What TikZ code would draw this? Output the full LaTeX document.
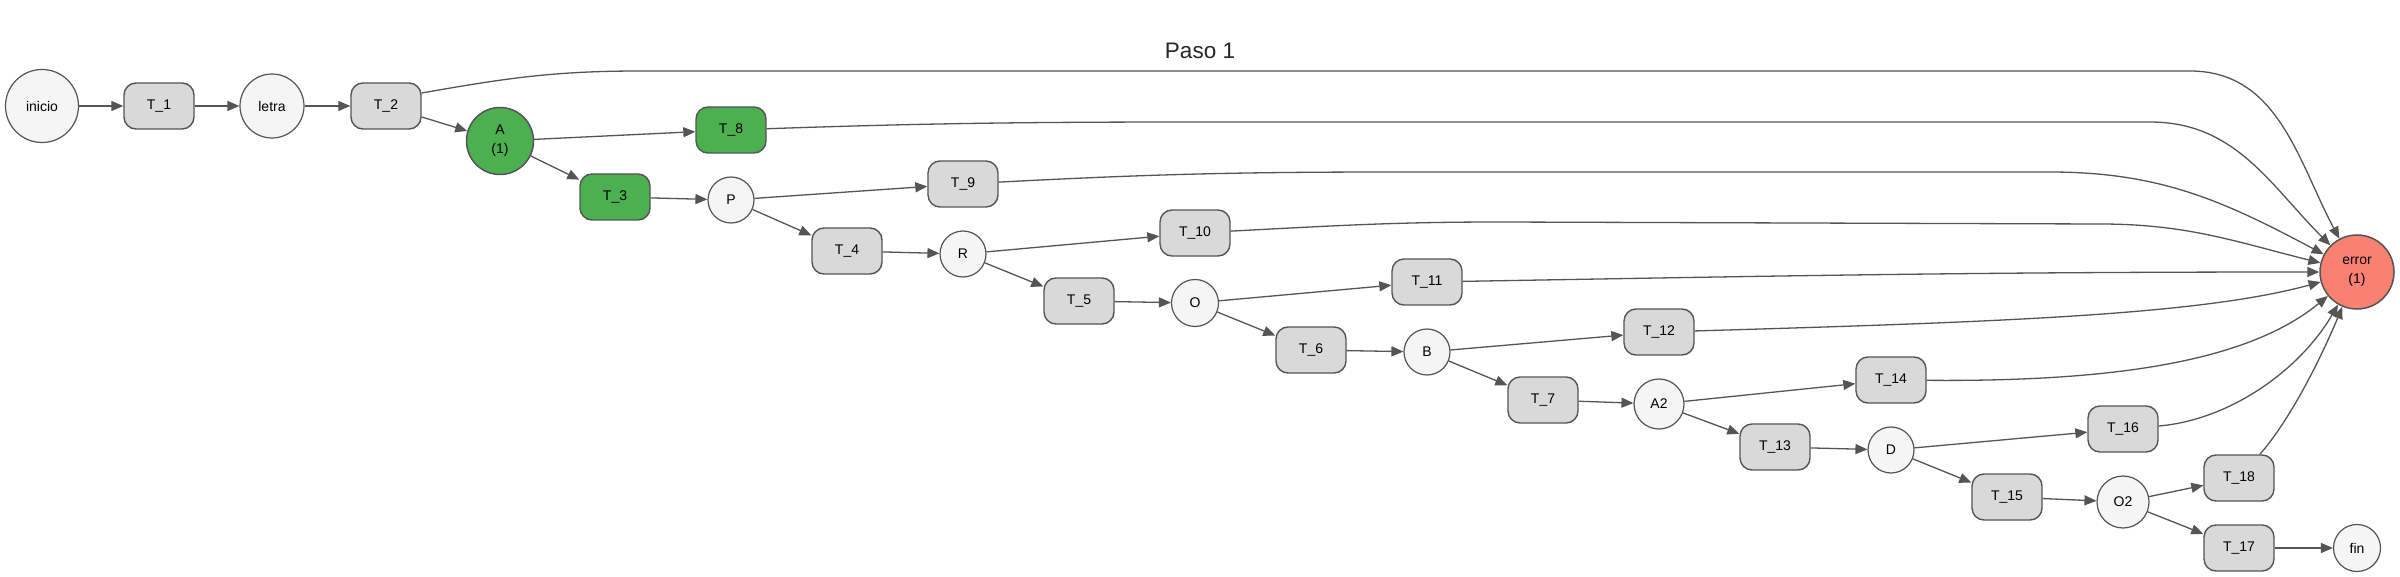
\documentclass[tikz,border=0pt]{standalone}
\usepackage{fontspec}
\setmainfont{Liberation Sans}
\usetikzlibrary{arrows.meta}
\definecolor{edgec}{HTML}{555555}
\definecolor{bord}{HTML}{555555}
\definecolor{lightc}{HTML}{F5F5F5}
\definecolor{boxc}{HTML}{D9D9D9}
\definecolor{greenc}{HTML}{4CAF50}
\definecolor{errc}{HTML}{FA8072}
\begin{document}
\begin{tikzpicture}[x=1pt,y=1pt,
  lbl/.style={font=\fontsize{14}{19}\selectfont,align=center,text=black},
  circ/.style={lbl,circle,draw=bord,line width=1.2pt,fill=lightc,inner sep=0pt},
  tbox/.style={lbl,rectangle,rounded corners=12pt,draw=bord,line width=1.4pt,fill=boxc,minimum width=70pt,minimum height=46pt,inner sep=0pt},
  gbox/.style={tbox,fill=greenc},
  edge/.style={draw=edgec,line width=1.3pt,-{Triangle[length=12pt,width=10pt]}},
]
\useasboundingbox[fill=white] (0,0) rectangle (2400,-577);
\node[font=\fontsize{22.5}{27}\selectfont,text=black!85] (title) at (1200,-51) {Paso 1};

\node[circ,minimum size=73pt] (inicio) at (42,-106) {inicio};
\node[tbox] (T1) at (159,-106) {T\_1};
\node[circ,minimum size=64pt] (letra) at (272,-106) {letra};
\node[tbox] (T2) at (386,-106) {T\_2};
\node[circ,fill=greenc,line width=1.5pt,minimum size=67pt] (A) at (500,-141) {A\\(1)};
\node[gbox] (T8) at (731,-130) {T\_8};
\node[gbox] (T3) at (615,-197) {T\_3};
\node[circ,minimum size=46pt] (P) at (731,-200) {P};
\node[tbox] (T9) at (963,-184) {T\_9};
\node[tbox] (T4) at (847,-251) {T\_4};
\node[circ,minimum size=46pt] (R) at (963,-254) {R};
\node[tbox] (T10) at (1195,-233) {T\_10};
\node[tbox] (T5) at (1079,-301) {T\_5};
\node[circ,minimum size=47pt] (O) at (1195,-303) {O};
\node[tbox] (T11) at (1427,-282) {T\_11};
\node[tbox] (T6) at (1311,-350) {T\_6};
\node[circ,minimum size=46pt] (B) at (1427,-352) {B};
\node[tbox] (T12) at (1659,-332) {T\_12};
\node[tbox] (T7) at (1543,-400) {T\_7};
\node[circ,minimum size=50pt] (A2) at (1659,-404) {A2};
\node[tbox] (T14) at (1891,-380) {T\_14};
\node[tbox] (T13) at (1775,-447) {T\_13};
\node[circ,minimum size=46pt] (D) at (1891,-450) {D};
\node[tbox] (T16) at (2123,-429) {T\_16};
\node[tbox] (T15) at (2007,-497) {T\_15};
\node[circ,minimum size=52pt] (O2) at (2123,-502) {O2};
\node[tbox] (T18) at (2239,-478) {T\_18};
\node[tbox] (T17) at (2239,-548) {T\_17};
\node[circ,minimum size=47pt] (fin) at (2357,-548) {fin};
\node[circ,fill=errc,line width=1.5pt,minimum size=74pt] (error) at (2357,-272) {error\\(1)};

\draw[edge] (inicio) -- (T1);
\draw[edge] (T1) -- (letra);
\draw[edge] (letra) -- (T2);
\draw[edge] (T2) -- (A);
\draw[edge] (A) -- (T8);
\draw[edge] (A) -- (T3);
\draw[edge] (T3) -- (P);
\draw[edge] (P) -- (T9);
\draw[edge] (P) -- (T4);
\draw[edge] (T4) -- (R);
\draw[edge] (R) -- (T10);
\draw[edge] (R) -- (T5);
\draw[edge] (T5) -- (O);
\draw[edge] (O) -- (T11);
\draw[edge] (O) -- (T6);
\draw[edge] (T6) -- (B);
\draw[edge] (B) -- (T12);
\draw[edge] (B) -- (T7);
\draw[edge] (T7) -- (A2);
\draw[edge] (A2) -- (T14);
\draw[edge] (A2) -- (T13);
\draw[edge] (T13) -- (D);
\draw[edge] (D) -- (T16);
\draw[edge] (D) -- (T15);
\draw[edge] (T15) -- (O2);
\draw[edge] (O2) -- (T18);
\draw[edge] (O2) -- (T17);
\draw[edge] (T17) -- (fin);

\draw[edge] (T2.20) to[out=10,in=180] (640,-71) -- (2190,-71) to[out=0,in=118] (error);
\draw[edge] (T8) to[out=2,in=180] (1300,-122) -- (2150,-122) to[out=0,in=135] (error);
\draw[edge] (T9) to[out=3,in=180] (1400,-172) -- (2050,-172) to[out=0,in=152] (error);
\draw[edge] (T10) to[out=3,in=180] (1500,-222) -- (2100,-224) to[out=0,in=166] (error);
\draw[edge] (T11) to[out=1,in=180] (error);
\draw[edge] (T12) .. controls (2000,-322) and (2200,-315) .. (error);
\draw[edge] (T14) .. controls (2120,-382) and (2250,-360) .. (error);
\draw[edge] (T16) .. controls (2230,-420) and (2300,-370) .. (error);
\draw[edge] (T18) .. controls (2290,-420) and (2320,-360) .. (error);
\end{tikzpicture}
\end{document}
